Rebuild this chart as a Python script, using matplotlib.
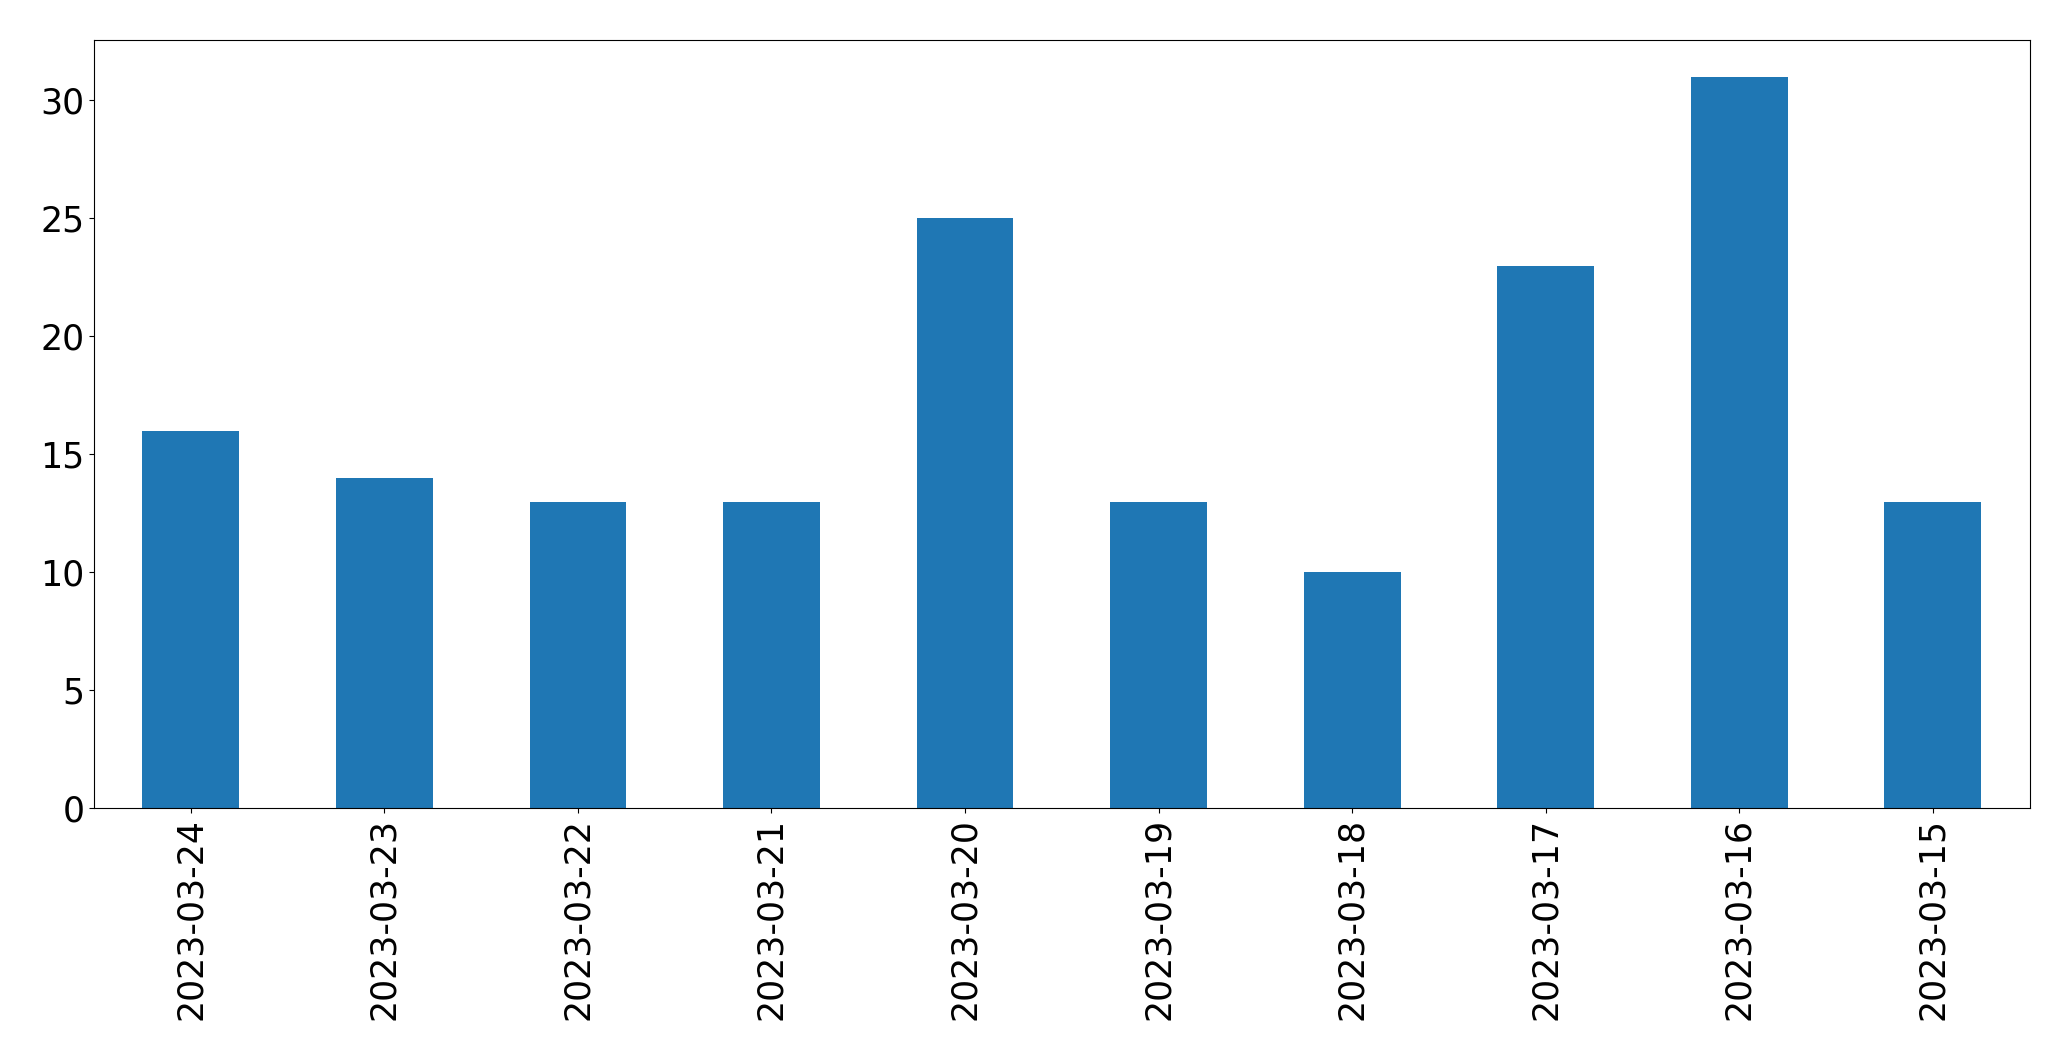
import pandas as pd
import matplotlib.pyplot as plt

dates = ["2023-03-24", "2023-03-23", "2023-03-22", "2023-03-21", "2023-03-20",
         "2023-03-19", "2023-03-18", "2023-03-17", "2023-03-16", "2023-03-15"]
counts = [16, 14, 13, 13, 25, 13, 10, 23, 31, 13]

s = pd.Series(counts, index=dates)

fig = plt.figure(figsize=(20.71, 10.61), dpi=100)
ax = fig.add_axes([0.0454, 0.238, 0.9346, 0.724])
s.plot(kind="bar", ax=ax, color="#1f77b4")
ax.tick_params(axis="both", labelsize=25)
ax.set_xlabel("")
fig.savefig("out.png", dpi=100)
